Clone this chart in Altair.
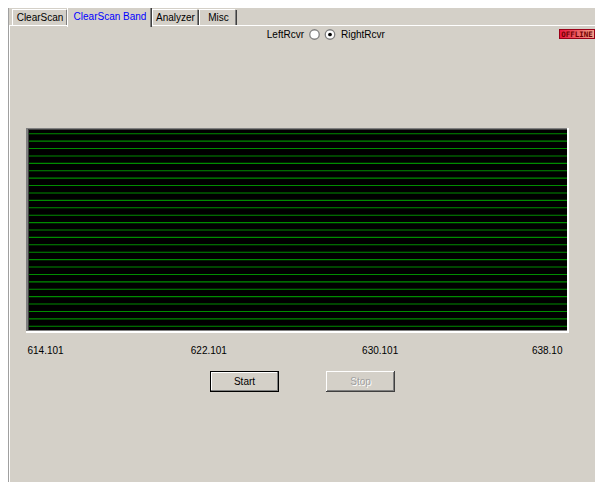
import altair as alt
import pandas as pd

# ---- data ----
freq_ticks = [614.101, 622.101, 630.101, 638.101]
tick_labels = ["614.101", "622.101", "630.101", "638.10"]
label_shift = [-2, 0, -8, -5]
line_index = list(range(27))          # 27 horizontal trace lines
tab_names = ["ClearScan", "ClearScan Band", "Analyzer", "Misc"]

BG = "#d4d0c8"
FONT = "Liberation Sans"
# plot interior position on the page
PX, PY = 29, 130
W, H = 538, 200
CX, CY = 8, 8      # page margin
PAGE_R, PAGE_B = 595, 482   # last usable page pixel (no scrollbars)

one = pd.DataFrame({"k": [0]})


def R(x1, y1, x2, y2, color, **kw):
    return alt.Chart(one).mark_rect(color=color, **kw).encode(
        x=alt.value(x1 - PX), x2=alt.value(x2 - PX),
        y=alt.value(y1 - PY), y2=alt.value(y2 - PY))


def T(x, y, text, color="black", size=10, align="center", **kw):
    return alt.Chart(one).mark_text(
        text=text, color=color, fontSize=size, font=kw.pop("font", FONT),
        align=align, baseline="middle", **kw).encode(
        x=alt.value(x - PX), y=alt.value(y - PY))


layers = []
# left edge lines
layers.append(R(8, 6, 9, 490, "#a0a0a0"))
layers.append(R(9, 26, 10, 490, "#ffffff"))
# tab strip baseline
layers.append(R(9, 25, 603, 26, "#ffffff"))

# tabs (page coords)
tabs = [(12, 9, 68, 25), (67, 6, 152, 27), (152, 9, 199, 25), (199, 9, 237, 25)]
text_x = [40, 110, 175.5, 218.5]
for i, (x1, y1, x2, y2) in enumerate(tabs):
    sel = i == 1
    layers.append(R(x1, y1, x2, y2, BG))
    layers.append(R(x1, y1, x1 + 1, y2, "#ffffff"))
    layers.append(R(x1 + 1, y1, x2 - 2, y1 + 1, "#ffffff"))
    layers.append(R(x2 - 2, y1 + 1, x2 - 1, y2, "#808080"))
    layers.append(R(x2 - 1, y1 + 1, x2, y2, "#404040"))
    layers.append(T(text_x[i], 18 if not sel else 17, tab_names[i],
                    color="#0000ff" if sel else "black"))

# radio buttons
layers.append(T(304, 35, "LeftRcvr", align="right"))
layers.append(T(341, 35, "RightRcvr", align="left"))
for cx in (314.5, 330):
    layers.append(alt.Chart(one).mark_point(
        shape="circle", size=90, fill="white", stroke="#808080",
        strokeWidth=1.3, opacity=1, fillOpacity=1).encode(
        x=alt.value(cx - PX), y=alt.value(34.5 - PY)))
layers.append(alt.Chart(one).mark_point(
    shape="circle", size=14, filled=True, color="black", opacity=1).encode(
    x=alt.value(330 - PX), y=alt.value(34.5 - PY)))

# OFFLINE indicator
grad = alt.LinearGradient(gradient="linear", x1=0, x2=1, y1=0, y2=0,
                          stops=[alt.GradientStop(offset=0, color="#e8183e"),
                                 alt.GradientStop(offset=1, color="#f4a088")])
layers.append(R(559, 29, 595, 39, "#9a0018"))
layers.append(R(560, 30, 594, 38, grad))
layers.append(T(577, 34.5, "OFFLINE", color="#700000", size=7.5,
                fontWeight="bold", font="DejaVu Sans Mono"))

# plot frame
layers.append(R(26, 128, 569, 333, "#ffffff"))
layers.append(R(26, 128, 567, 331, "#808080"))
layers.append(R(28, 129, 567, 330, "#404040"))
layers.append(R(PX, PY, PX + W, PY + H, "#000000"))

# buttons
layers.append(R(210, 371, 279, 392, "#000000"))
layers.append(R(211, 372, 278, 391, "#808080"))
layers.append(R(211, 372, 277, 390, "#ffffff"))
layers.append(R(212, 373, 277, 390, BG))
layers.append(T(244.5, 381.5, "Start"))

layers.append(R(326, 371, 395, 392, "#404040"))
layers.append(R(326, 371, 394, 391, "#ffffff"))
layers.append(R(327, 372, 394, 391, "#808080"))
layers.append(R(327, 372, 393, 390, BG))
layers.append(T(361.5, 382.5, "Stop", color="#ffffff"))
layers.append(T(360.5, 381.5, "Stop", color="#a0a0a0"))

# ---- data layers ----
lines_df = pd.DataFrame({"idx": [i + 0.5 for i in line_index]})
trace = alt.Chart(lines_df).mark_rule(color="#008c00", strokeWidth=1.1).encode(
    y=alt.Y("idx:Q", scale=alt.Scale(domain=[0, len(line_index)], reverse=True),
            axis=None))

label_expr = " : ".join(
    f"abs(datum.value - {v}) < 0.01 ? '{l}'" for v, l in zip(freq_ticks, tick_labels)
) + " : ''"
offset_cond = {
    "condition": [
        {"test": f"abs(datum.value - {v}) < 0.01", "value": s}
        for v, s in zip(freq_ticks, label_shift)
    ],
    "value": 0,
}
ticks_df = pd.DataFrame({"freq": freq_ticks})
axis_layer = alt.Chart(ticks_df).mark_point(opacity=0).encode(
    x=alt.X("freq:Q",
            scale=alt.Scale(domain=[freq_ticks[0], freq_ticks[-1]], nice=False, zero=False),
            axis=alt.Axis(values=freq_ticks, labelExpr=label_expr, labelFlush=True,
                          domain=False, ticks=False, grid=False, title=None,
                          labelFont=FONT, labelFontSize=10, labelColor="black",
                          labelPadding=15, labelOffset=offset_cond)),
    y=alt.value(0))

chart = alt.layer(*layers, trace, axis_layer).properties(
    width=W, height=H,
    padding={"left": PX - CX, "top": PY - CY,
             "right": PAGE_R - (PX + W), "bottom": PAGE_B - (PY + H)},
    autosize=alt.AutoSizeParams(type="none"),
    background=BG,
).configure_view(stroke=None, fill=None)

chart.save("out.html", embed_options={"renderer": "svg", "actions": False})
